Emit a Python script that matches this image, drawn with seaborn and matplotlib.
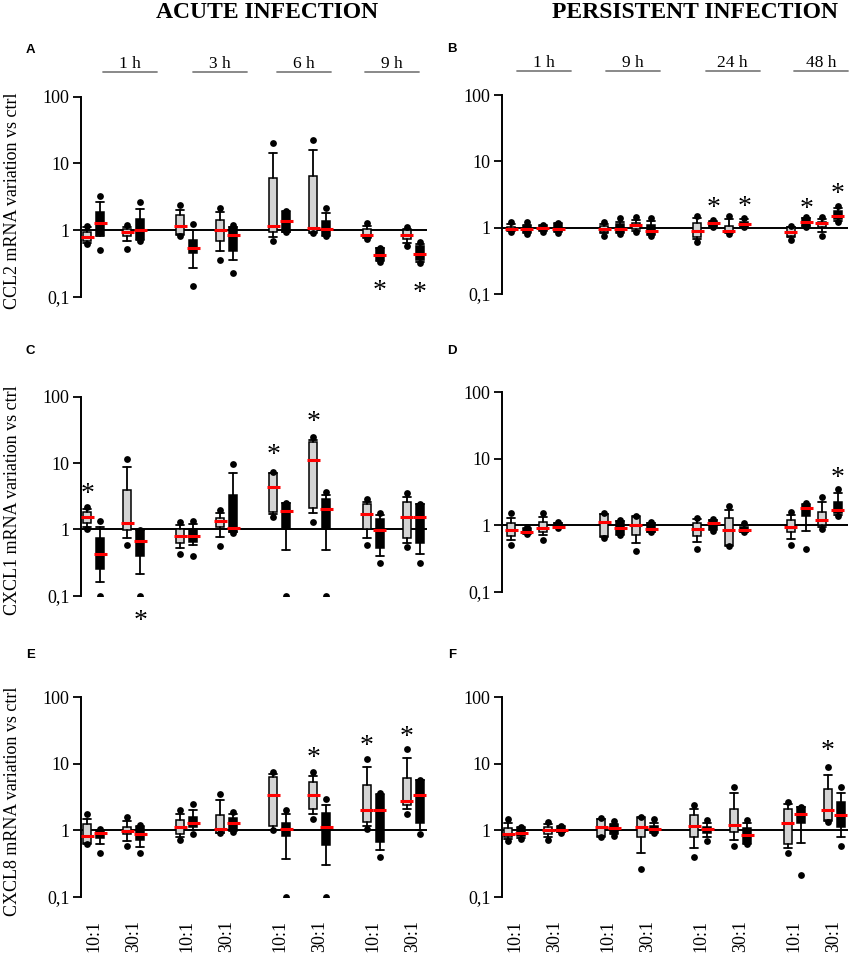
import pandas as pd
import seaborn as sns
import matplotlib.pyplot as plt
from matplotlib.ticker import NullLocator
from matplotlib.transforms import offset_copy

sns.set_theme(style="ticks", rc={"axes.edgecolor": "black", "text.color": "black",
                                 "xtick.color": "black", "ytick.color": "black",
                                 "axes.labelcolor": "black"})
plt.rcParams["font.family"] = ["Liberation Serif", "DejaVu Serif"]

# categories
times_acute = ["1 h", "3 h", "6 h", "9 h"]
times_persistent = ["1 h", "9 h", "24 h", "48 h"]
moi_labels = ["10:1", "30:1"]
genes = ["CCL2", "CXCL1", "CXCL8"]
# box order inside every time group: grey 10:1, black 10:1, grey 30:1, black 30:1

# ---- A: CCL2 acute ----
A_max = [1.15, 3.28, 1.2, 2.6, 2.38, 1.23, 2.14, 1.17, 20.1, 1.95, 22.5, 2.14, 1.26, 0.54, 1.12, 0.66]
A_whi = [1.1, 2.67, 1.1, 2.07, 2.0, 1.0, 1.84, 1.12, 14.2, 1.9, 16.1, 1.8, 1.15, 0.54, 1.05, 0.62]
A_q3 = [0.95, 1.89, 1.03, 1.46, 1.68, 0.71, 1.43, 1.1, 5.98, 1.84, 6.5, 1.38, 1.03, 0.53, 1.0, 0.58]
A_med = [0.78, 1.27, 0.92, 1.0, 1.16, 0.54, 1.01, 0.83, 1.13, 1.35, 1.07, 1.02, 0.85, 0.416, 0.85, 0.435]
A_q1 = [0.69, 0.85, 0.82, 0.73, 0.87, 0.45, 0.68, 0.49, 0.92, 0.92, 0.92, 0.85, 0.78, 0.35, 0.73, 0.35]
A_wlo = [0.65, 0.8, 0.68, 0.7, 0.84, 0.265, 0.49, 0.35, 0.79, 0.92, 0.91, 0.82, 0.75, 0.34, 0.65, 0.33]
A_min = [0.62, 0.5, 0.52, 0.68, 0.81, 0.144, 0.35, 0.226, 0.68, 0.92, 0.9, 0.8, 0.73, 0.33, 0.58, 0.32]
A_star_box = [13, 15]
A_star_y = [0.15, 0.14]

# ---- B: CCL2 persistent ----
B_max = [1.2, 1.2, 1.1, 1.19, 1.23, 1.38, 1.43, 1.38, 1.5, 1.3, 1.52, 1.41, 1.06, 1.46, 1.46, 2.15]
B_whi = [1.12, 1.1, 1.08, 1.16, 1.12, 1.23, 1.3, 1.26, 1.38, 1.26, 1.35, 1.34, 1.04, 1.42, 1.35, 1.95]
B_q3 = [1.03, 1.06, 1.06, 1.14, 1.06, 1.12, 1.19, 1.1, 1.19, 1.23, 1.07, 1.23, 1.02, 1.38, 1.23, 1.8]
B_med = [0.94, 0.94, 0.98, 0.97, 0.94, 0.94, 1.1, 0.89, 0.89, 1.16, 0.9, 1.14, 0.87, 1.2, 1.19, 1.5]
B_q1 = [0.92, 0.87, 0.92, 0.89, 0.87, 0.85, 0.95, 0.8, 0.73, 1.07, 0.85, 1.06, 0.76, 1.07, 1.03, 1.34]
B_wlo = [0.9, 0.84, 0.9, 0.86, 0.82, 0.82, 0.89, 0.78, 0.675, 1.05, 0.82, 1.04, 0.715, 1.05, 0.85, 1.28]
B_min = [0.87, 0.8, 0.87, 0.84, 0.76, 0.8, 0.85, 0.76, 0.615, 1.03, 0.8, 1.03, 0.65, 1.03, 0.76, 1.23]
B_star_box = [9, 11, 13, 15]
B_star_y = [2.41, 2.55, 2.33, 3.92]

# ---- C: CXCL1 acute ----
C_max = [2.19, 1.32, 11.7, 0.98, 1.27, 1.32, 1.96, 9.55, 7.2, 2.52, 24.4, 3.6, 2.86, 1.78, 3.49, 2.41]
C_whi = [2.0, 1.1, 8.8, 0.98, 1.16, 1.19, 1.78, 7.0, 7.1, 2.49, 22.2, 3.3, 2.6, 1.64, 3.1, 2.41]
C_q3 = [1.85, 0.73, 3.9, 0.98, 1.0, 1.03, 1.5, 3.3, 7.0, 2.46, 21.0, 2.83, 2.41, 1.43, 2.61, 2.41]
C_med = [1.55, 0.425, 1.23, 0.675, 0.8, 0.79, 1.34, 1.06, 4.4, 1.87, 11.3, 2.02, 1.68, 0.98, 1.52, 1.52]
C_q1 = [1.23, 0.25, 0.98, 0.39, 0.615, 0.65, 1.1, 0.92, 1.85, 1.03, 2.12, 1.03, 1.0, 0.52, 0.73, 0.615]
C_wlo = [1.07, 0.16, 0.73, 0.21, 0.52, 0.58, 0.78, 0.9, 1.68, 0.49, 1.74, 0.49, 0.73, 0.4, 0.63, 0.425]
C_min = [1.0, 0.1, 0.58, 0.1, 0.425, 0.39, 0.56, 0.89, 1.55, 0.1, 1.3, 0.1, 0.58, 0.31, 0.535, 0.31]
C_star_box = [0, 3, 8, 10]
C_star_y = [4.15, 0.051, 16.3, 50.9]

# ---- D: CXCL1 persistent ----
D_max = [1.5, 0.94, 1.53, 1.1, 1.5, 1.19, 1.38, 1.1, 1.3, 1.22, 1.93, 1.06, 1.59, 2.12, 2.67, 3.48]
D_whi = [1.29, 0.9, 1.33, 1.09, 1.48, 1.17, 1.35, 1.09, 1.23, 1.2, 1.68, 1.0, 1.41, 2.05, 2.25, 3.0]
D_q3 = [1.08, 0.87, 1.1, 1.08, 1.46, 1.15, 1.33, 1.08, 1.06, 1.19, 1.3, 0.94, 1.19, 2.0, 1.55, 2.25]
D_med = [0.84, 0.79, 0.9, 0.94, 1.1, 0.91, 1.02, 0.88, 0.87, 1.08, 0.84, 0.84, 0.94, 1.82, 1.19, 1.68]
D_q1 = [0.69, 0.75, 0.79, 0.92, 0.68, 0.73, 0.71, 0.79, 0.68, 0.87, 0.5, 0.79, 0.78, 1.38, 1.0, 1.5]
D_wlo = [0.59, 0.74, 0.71, 0.91, 0.66, 0.72, 0.53, 0.78, 0.55, 0.84, 0.49, 0.78, 0.61, 0.81, 0.94, 1.44]
D_min = [0.5, 0.73, 0.59, 0.91, 0.65, 0.71, 0.41, 0.78, 0.435, 0.81, 0.48, 0.78, 0.5, 0.445, 0.89, 1.38]
D_star_box = [15]
D_star_y = [6.35]

# ---- E: CXCL8 acute ----
E_max = [1.74, 1.06, 1.59, 1.19, 2.05, 2.44, 3.48, 1.89, 7.55, 2.0, 7.55, 2.9, 11.95, 3.57, 16.6, 5.79]
E_whi = [1.5, 1.02, 1.37, 1.15, 1.78, 2.05, 2.83, 1.74, 7.0, 1.74, 6.57, 2.43, 8.95, 3.5, 12.26, 5.72]
E_q3 = [1.22, 0.98, 1.12, 1.12, 1.41, 1.59, 1.72, 1.55, 6.35, 1.29, 5.35, 1.82, 4.87, 3.44, 6.2, 5.66]
E_med = [0.82, 0.92, 0.97, 0.89, 1.12, 1.3, 1.03, 1.29, 3.44, 1.06, 3.44, 1.12, 2.0, 2.0, 2.73, 3.44]
E_q1 = [0.645, 0.775, 0.89, 0.71, 0.89, 1.1, 0.91, 1.0, 1.15, 0.81, 2.12, 0.595, 1.33, 0.67, 2.38, 1.29]
E_wlo = [0.63, 0.615, 0.69, 0.56, 0.79, 1.02, 0.91, 0.97, 1.0, 0.375, 1.78, 0.3, 1.16, 0.5, 2.07, 1.02]
E_min = [0.615, 0.46, 0.57, 0.46, 0.71, 0.89, 0.91, 0.94, 1.0, 0.1, 1.5, 0.1, 1.03, 0.39, 1.78, 0.87]
E_star_box = [10, 12, 14]
E_star_y = [15.1, 22.6, 31.2]

# ---- F: CXCL8 persistent ----
F_max = [1.45, 1.12, 1.33, 1.16, 1.5, 1.37, 1.59, 1.46, 2.38, 1.41, 4.49, 1.41, 2.61, 2.24, 8.77, 4.49]
F_whi = [1.29, 1.1, 1.23, 1.14, 1.48, 1.25, 1.55, 1.29, 2.05, 1.29, 3.56, 1.29, 2.43, 2.2, 6.7, 3.65]
F_q3 = [1.08, 1.08, 1.12, 1.12, 1.46, 1.19, 1.5, 1.15, 1.68, 1.12, 2.07, 1.08, 2.07, 2.19, 4.09, 2.61]
F_med = [0.87, 0.91, 1.0, 1.02, 1.12, 1.06, 1.12, 1.03, 1.15, 1.03, 1.19, 0.84, 1.29, 1.74, 2.0, 1.68]
F_q1 = [0.79, 0.81, 0.87, 0.94, 0.81, 0.91, 0.78, 0.94, 0.78, 0.92, 0.94, 0.63, 0.615, 1.29, 1.41, 1.12]
F_wlo = [0.73, 0.77, 0.78, 0.93, 0.8, 0.87, 0.455, 0.92, 0.54, 0.79, 0.72, 0.62, 0.53, 0.63, 1.37, 0.79]
F_min = [0.68, 0.73, 0.71, 0.92, 0.78, 0.82, 0.26, 0.91, 0.39, 0.68, 0.58, 0.615, 0.46, 0.215, 1.33, 0.58]
F_star_box = [14]
F_star_y = [19.0]

panels = {
    "A": (A_max, A_whi, A_q3, A_med, A_q1, A_wlo, A_min, A_star_box, A_star_y),
    "B": (B_max, B_whi, B_q3, B_med, B_q1, B_wlo, B_min, B_star_box, B_star_y),
    "C": (C_max, C_whi, C_q3, C_med, C_q1, C_wlo, C_min, C_star_box, C_star_y),
    "D": (D_max, D_whi, D_q3, D_med, D_q1, D_wlo, D_min, D_star_box, D_star_y),
    "E": (E_max, E_whi, E_q3, E_med, E_q1, E_wlo, E_min, E_star_box, E_star_y),
    "F": (F_max, F_whi, F_q3, F_med, F_q1, F_wlo, F_min, F_star_box, F_star_y),
}

# layout (x in pixel-like units, spine at 0)
GROUP0, GROUP_STEP = 33, 93.1
PAIRED = [-26.5, -13.5, 13.5, 26.5]
EVEN = [-23.5, -7.8, 7.8, 23.5]
BOX_W, MED_W = 8, 13
GREY = "#d4d4d4"

fig = plt.figure(figsize=(8.51, 9.55), dpi=100)
W, H = 851, 955
# axes boxes in pixels: (left spine x, top y at 100, bottom y at 0.1)
boxes = {
    "A": (80.7, 96.7, 296.7), "C": (80.7, 396.7, 595.7), "E": (80.7, 697.3, 896.7),
    "B": (501.7, 95.0, 294.0), "D": (501.7, 392.0, 591.7), "F": (501.7, 697.0, 896.7),
}
AX_W = 346.3
letter_y = {"A": 50, "B": 49, "C": 351, "D": 351, "E": 655, "F": 655}
time_lbl_x = {"left": [49.3, 139.3, 223.3, 311.3], "right": [42, 131.3, 230.8, 319.3]}

for key, (mx, whi, q3, med, q1, wlo, mn, sbox, sy) in panels.items():
    x0, ytop, ybot = boxes[key]
    ax = fig.add_axes([x0 / W, 1 - ybot / H, AX_W / W, (ybot - ytop) / H])
    ax.set_yscale("log")
    offs = EVEN if key in ("B", "D") else PAIRED
    pos = [GROUP0 + GROUP_STEP * g + o for g in range(4) for o in offs]

    stats = [dict(med=med[i], q1=q1[i], q3=q3[i], whislo=wlo[i], whishi=whi[i], fliers=[])
             for i in range(16)]
    art = ax.bxp(stats, positions=pos, widths=BOX_W, capwidths=BOX_W, patch_artist=True,
                 showfliers=False, manage_ticks=False,
                 boxprops=dict(edgecolor="black", linewidth=1.1),
                 whiskerprops=dict(color="black", linewidth=1.3),
                 capprops=dict(color="black", linewidth=1.3),
                 medianprops=dict(visible=False))
    for i, patch in enumerate(art["boxes"]):
        patch.set_facecolor(GREY if i % 2 == 0 else "black")

    ax.axhline(1, color="black", linewidth=1.4, zorder=1.5)

    dots = pd.DataFrame({"x": pos + pos, "y": list(mx) + list(mn)})
    sns.scatterplot(data=dots, x="x", y="y", color="black", s=24, linewidth=0,
                    zorder=5, ax=ax, legend=False)

    ax.hlines(med, [p - MED_W / 2 for p in pos], [p + MED_W / 2 for p in pos],
              color="#ff0000", linewidth=2.2, zorder=6)

    fs_star = 20
    star_tr = offset_copy(ax.transData, fig=fig, y=-0.47 * fs_star, units="points")
    for b, y in zip(sbox, sy):
        ax.text(pos[b], y, "*", fontsize=fs_star, ha="center", va="baseline",
                transform=star_tr, clip_on=False)

    ax.set_xlim(0, AX_W)
    ax.set_ylim(0.1, 100)
    ax.set_yticks([0.1, 1, 10, 100], ["0,1", "1", "10", "100"])
    ax.yaxis.set_minor_locator(NullLocator())
    ax.tick_params(axis="y", direction="out", length=6, width=1.3, pad=2, labelsize=13)
    for s in ("top", "right", "bottom"):
        ax.spines[s].set_visible(False)
    ax.spines["left"].set_linewidth(1.4)
    ax.set_xlabel("")
    ax.set_ylabel("")

    if key in ("E", "F"):
        centers = [GROUP0 + GROUP_STEP * g + c for g in range(4) for c in (-20, 20)]
        ax.set_xticks(centers, moi_labels * 4, rotation=90, fontsize=13)
        ax.tick_params(axis="x", length=0, pad=17)
    else:
        ax.set_xticks([])

    if key in ("A", "C", "E"):
        gene = genes["ACE".index(key)]
        ax.set_ylabel(f"{gene} mRNA variation vs ctrl", fontsize=13)
        ax.yaxis.set_label_coords(-(x0 - 21) / AX_W, 0.48)

    if key in ("A", "B"):
        side = "left" if key == "A" else "right"
        labels = times_acute if key == "A" else times_persistent
        tr = ax.get_xaxis_transform()
        for cx, lab in zip(time_lbl_x[side], labels):
            ax.text(cx, 1.142, lab, transform=tr, ha="center", va="baseline", fontsize=12.5)
            ax.plot([cx - 27, cx + 27], [1.122, 1.122], transform=tr, color="#808080",
                    linewidth=1.3, clip_on=False)

    fig.text((x0 - 50) / W, 1 - letter_y[key] / H, key, fontsize=9.5, fontweight="bold",
             family=["Liberation Sans", "DejaVu Sans"], ha="center", va="center")

fig.text(0.314, 1 - 12 / H, "ACUTE INFECTION", fontsize=17, fontweight="bold",
         ha="center", va="center")
fig.text(0.817, 1 - 12 / H, "PERSISTENT INFECTION", fontsize=17, fontweight="bold",
         ha="center", va="center")

fig.savefig("out.png", dpi=100)
